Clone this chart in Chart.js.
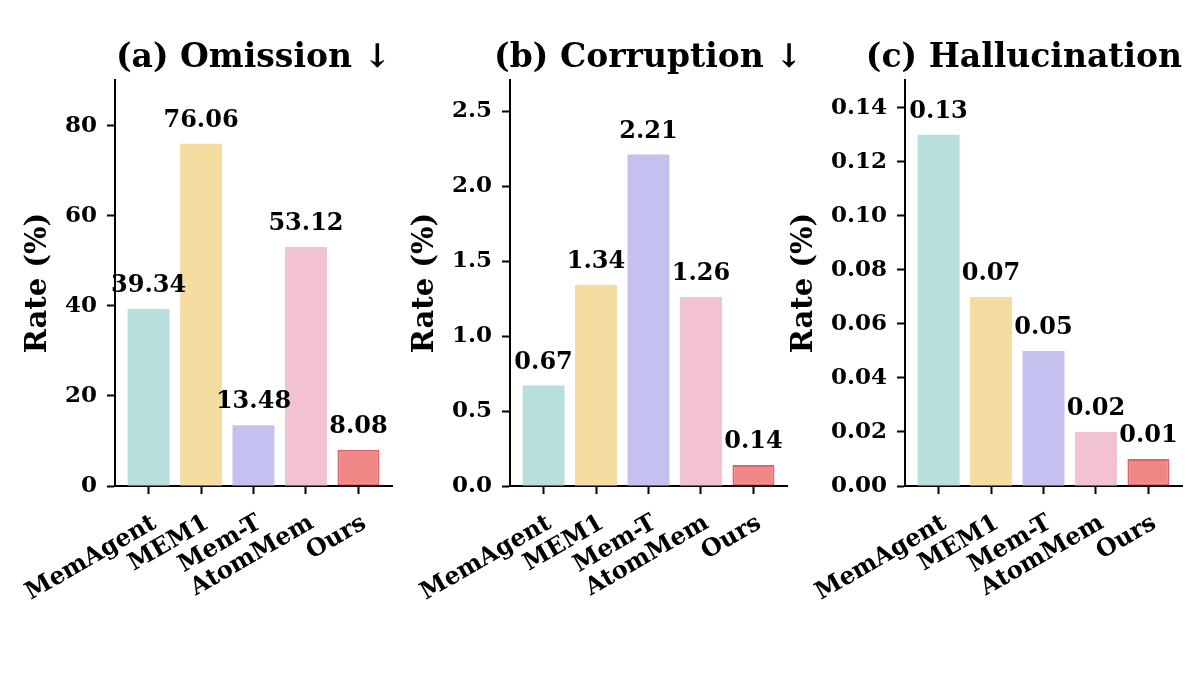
<!DOCTYPE html>
<html>
<head>
<meta charset="utf-8">
<script src="https://cdn.jsdelivr.net/npm/chart.js@4/dist/chart.umd.min.js"></script>
<style>
  html, body { margin: 0; padding: 0; background: #fff; }
  #wrap { position: relative; width: 1200px; height: 675px; overflow: hidden; }
  .panel { position: absolute; top: 0; height: 675px; }
</style>
</head>
<body>
<div id="wrap">
  <div class="panel" style="left:0;width:400px"><canvas id="chartA"></canvas></div>
  <div class="panel" style="left:395px;width:400px"><canvas id="chartB"></canvas></div>
  <div class="panel" style="left:790px;width:410px"><canvas id="chartC"></canvas></div>
</div>
<script>
const methods = ["MemAgent", "MEM1", "Mem-T", "AtomMem", "Ours"];

const omission = [39.34, 76.06, 13.48, 53.12, 8.08];
const corruption = [0.67, 1.34, 2.21, 1.26, 0.14];
const hallucination = [0.13, 0.07, 0.05, 0.02, 0.01];

const titles = ["(a) Omission ↓", "(b) Corruption ↓", "(c) Hallucination ↓"];

const ticksA = [0, 20, 40, 60, 80];
const ticksB = [0, 0.5, 1.0, 1.5, 2.0, 2.5];
const ticksC = [0, 0.02, 0.04, 0.06, 0.08, 0.10, 0.12, 0.14];

const fillColors = ["#b7dfdc", "#f5dca1", "#c5c1ee", "#f3c2d0", "#ef8787"];
const edgeColors = ["#b7dfdc", "#f5dca1", "#c5c1ee", "#f3c2d0", "#e0636a"];

const FONT = "'DejaVu Serif', serif";
const TICK_SIZE = 23;

// titles, y label and value labels drawn by hand to match matplotlib placement
const annotate = {
  id: "annotate",
  afterDatasetsDraw(chart, args, opts) {
    const { ctx, chartArea } = chart;
    const meta = chart.getDatasetMeta(0);
    ctx.save();
    ctx.fillStyle = "#000";
    ctx.textAlign = "center";
    ctx.textBaseline = "alphabetic";
    ctx.font = "bold 24px " + FONT;
    meta.data.forEach((bar, i) => {
      ctx.fillText(opts.values[i].toFixed(2), bar.x, bar.y - 17);
    });

    ctx.font = "bold 33px " + FONT;
    ctx.fillText(opts.title, (chartArea.left + chartArea.right) / 2, 67);

    // y label sits left of the widest tick label
    const ys = chart.scales.y;
    ctx.font = "bold " + TICK_SIZE + "px " + FONT;
    let widest = 0;
    ys.ticks.forEach((t) => {
      widest = Math.max(widest, ctx.measureText(t.label).width);
    });
    const x = chartArea.left - 8 - 10 - widest - 13 - 14;
    ctx.translate(x, (chartArea.top + chartArea.bottom) / 2);
    ctx.rotate(-Math.PI / 2);
    ctx.font = "bold 29px " + FONT;
    ctx.textBaseline = "middle";
    ctx.fillText("Rate (%)", 0, 0);
    ctx.restore();
  },
};

function makeChart(id, values, yMax, yTicks, decimals, title) {
  new Chart(document.getElementById(id), {
    type: "bar",
    data: {
      datasets: [
        {
          data: values.map((v, i) => ({ x: i, y: v })),
          backgroundColor: fillColors,
          borderColor: edgeColors,
          borderWidth: [0, 0, 0, 0, 2],
          borderSkipped: false,
          categoryPercentage: 1,
          barPercentage: 0.8,
        },
      ],
    },
    options: {
      responsive: true,
      maintainAspectRatio: false,
      animation: false,
      layout: { padding: { top: 80, right: id === "chartC" ? 18 : 8, left: 0, bottom: 0 } },
      plugins: {
        legend: { display: false },
        tooltip: { enabled: false },
        annotate: { title: title, values: values },
      },
      scales: {
        x: {
          type: "linear",
          offset: false,
          min: -0.64,
          max: 4.64,
          afterBuildTicks: (s) => { s.ticks = methods.map((_, i) => ({ value: i })); },
          afterFit: (s) => {
            s.height = 189;
            s.paddingLeft = 0;
            s.paddingRight = 0;
          },
          border: { color: "#000", width: 2 },
          grid: { offset: false, drawOnChartArea: false, tickLength: 8, tickWidth: 2, tickColor: "#000" },
          ticks: {
            autoSkip: false,
            minRotation: 30,
            maxRotation: 30,
            padding: 15,
            labelOffset: 6,
            color: "#000",
            font: { family: FONT, size: 24, weight: "bold" },
            callback: (v) => methods[v],
          },
        },
        y: {
          min: 0,
          max: yMax,
          afterBuildTicks: (s) => { s.ticks = yTicks.map((v) => ({ value: v })); },
          afterFit: (s) => {
            s.width = 115;
            s.paddingTop = 0;
            s.paddingBottom = 0;
          },
          border: { color: "#000", width: 2 },
          grid: { drawOnChartArea: false, tickLength: 8, tickWidth: 2, tickColor: "#000" },
          ticks: {
            padding: 10,
            color: "#000",
            font: { family: FONT, size: TICK_SIZE, weight: "bold" },
            callback: (v) => Number(v).toFixed(decimals),
          },
        },
      },
    },
    plugins: [annotate],
  });
}

makeChart("chartA", omission, 90.2, ticksA, 0, titles[0]);
makeChart("chartB", corruption, 2.707, ticksB, 1, titles[1]);
makeChart("chartC", hallucination, 0.1503, ticksC, 2, titles[2]);
</script>
</body>
</html>
